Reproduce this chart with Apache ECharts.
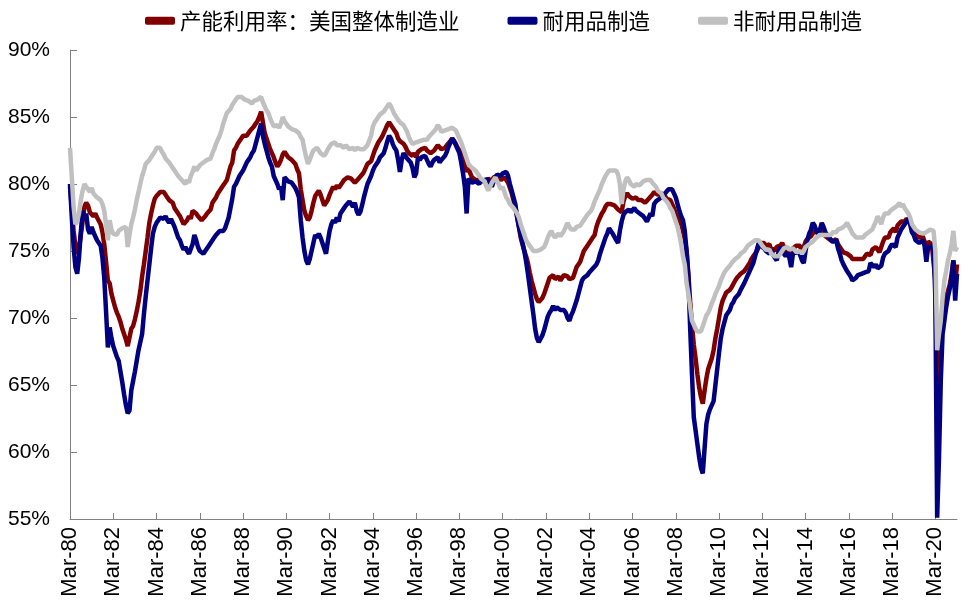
<!DOCTYPE html>
<html>
<head>
<meta charset="utf-8">
<script src="https://cdn.jsdelivr.net/npm/echarts@6/dist/echarts.min.js"></script>
<style>
html,body{margin:0;padding:0;background:#fff;}
#chart{width:969px;height:612px;}
</style>
</head>
<body>
<div id="chart"></div>
<script>
// Monthly data, Mar-1980 .. Mar-2021 (one row per calendar year)
const seriesNames = ['产能利用率：美国整体制造业', '耐用品制造', '非耐用品制造'];
const startYear = 1980, startMonth = 3, monthCount = 493;
const monthAbbr = ['Jan','Feb','Mar','Apr','May','Jun','Jul','Aug','Sep','Oct','Nov','Dec'];

const totalMfg = [
79.8,78.2,76.5,75.4,74.8,75.2,76.2,77.2,78.3,78.6,
78.4,77.9,78.0,77.6,77.8,77.5,77.6,77.0,76.4,75.5,74.2,72.8,
72.6,71.8,71.3,70.8,70.4,70.1,69.7,69.2,68.8,68.4,67.9,68.0,
69.2,69.4,69.9,70.5,71.2,72.0,73.1,74.0,75.0,76.0,77.1,77.8,
78.4,78.9,79.1,79.2,79.4,79.3,79.4,79.2,79.0,78.8,78.9,78.6,
78.2,78.0,77.8,77.6,77.3,77.0,77.0,77.3,77.6,77.4,78.0,77.9,
77.8,77.6,77.5,77.3,77.4,77.6,77.8,77.9,78.1,78.6,78.8,79.0,
79.3,79.5,79.6,79.9,80.1,80.3,80.8,81.3,81.6,82.5,82.7,83.0,
83.1,83.4,83.6,83.7,83.6,83.8,84.0,83.9,84.3,84.4,84.7,85.0,
85.4,84.6,83.8,83.4,83.0,82.6,82.3,82.0,81.6,81.3,81.5,81.8,
82.2,82.4,82.2,82.0,81.9,81.8,81.8,81.5,81.1,80.8,79.6,78.8,
78.0,77.6,77.3,77.5,78.0,78.6,79.1,79.3,79.5,79.2,78.8,78.4,
78.3,78.8,79.2,79.5,79.8,79.6,79.9,79.7,79.8,80.1,80.3,80.4,
80.5,80.6,80.4,80.3,80.1,80.2,80.4,80.5,80.7,80.9,81.2,81.5,
81.6,81.7,82.1,82.5,82.8,83.1,83.3,83.5,83.8,84.1,84.4,84.6,
84.5,84.2,84.0,83.8,83.4,83.2,83.1,83.0,82.8,82.5,82.3,82.2,
82.1,82.3,82.0,82.4,82.5,82.6,82.5,82.7,82.5,82.4,82.3,82.4,
82.5,82.7,82.9,82.8,82.6,82.7,82.7,82.9,83.0,83.2,83.4,83.2,
83.0,82.7,82.5,82.3,82.0,81.4,80.9,81.2,80.8,80.5,80.4,80.3,
80.2,80.3,80.2,80.3,80.1,80.2,80.4,80.3,80.2,80.5,80.4,80.6,
80.5,80.3,80.4,80.5,80.3,80.1,79.7,79.3,78.8,78.3,77.6,76.8,
76.0,75.5,75.0,74.6,74.1,73.4,72.8,72.3,71.8,71.4,71.2,71.3,
71.5,71.8,72.2,72.6,73.0,73.1,73.2,72.9,73.0,73.1,72.8,73.0,
73.2,73.3,73.1,72.9,72.8,73.0,73.4,73.8,74.0,74.2,74.6,75.0,
75.1,75.4,75.6,75.8,76.0,76.2,76.8,77.2,77.5,77.8,78.0,78.3,
78.5,78.6,78.5,78.4,78.4,78.3,78.1,78.2,77.9,78.7,79.1,79.3,
79.1,79.0,78.9,78.9,79.0,78.8,78.9,78.8,78.9,78.6,78.7,78.9,
79.0,79.2,79.4,79.3,79.2,79.3,79.3,79.2,79.1,78.9,78.8,78.8,
78.5,78.2,77.8,77.5,77.4,77.0,76.5,75.9,75.0,73.3,71.2,69.5,
68.0,67.0,65.8,64.8,64.1,63.6,64.6,65.5,66.2,66.6,67.0,67.6,
68.5,69.2,70.0,70.8,71.3,71.6,71.9,72.0,72.1,72.3,72.4,72.8,
73.0,73.1,73.3,73.2,73.5,73.7,73.9,74.1,74.4,74.6,74.8,75.0,
75.3,75.6,75.5,75.6,75.4,75.3,75.5,75.0,75.2,75.0,75.3,75.4,
75.4,75.6,75.3,75.0,74.9,75.0,74.6,75.2,75.3,75.4,75.3,75.4,
74.8,75.3,75.7,75.9,76.0,76.1,76.3,76.5,76.4,76.3,76.5,76.4,
76.3,76.1,76.0,75.9,75.8,75.7,75.8,75.9,75.5,75.4,75.1,74.9,
75.0,74.8,74.9,74.6,74.4,74.5,74.4,74.3,74.4,74.5,74.4,74.6,
74.8,74.9,74.7,75.1,75.2,75.3,75.1,74.9,75.0,75.7,76.0,76.1,
76.0,76.4,76.5,76.7,76.4,76.9,77.0,77.2,77.3,77.2,77.4,77.5,
77.2,76.7,76.6,76.2,76.3,76.0,75.9,76.1,75.7,75.3,75.7,75.6,
75.5,75.6,72.8,64.5,66.5,68.8,70.5,71.2,71.3,72.0,72.5,73.3,
74.3,72.5,74.0
];

const durableMfg = [
80.0,77.5,75.3,73.8,73.3,74.5,76.4,78.0,77.3,77.8,
76.6,76.3,76.8,76.4,76.1,75.8,75.9,75.4,74.5,73.0,70.5,67.8,
69.3,68.5,67.9,67.5,67.1,66.8,66.0,65.2,64.3,63.5,62.9,63.1,
64.6,65.3,66.0,66.8,67.6,68.2,68.8,70.3,71.6,72.8,74.0,75.2,
76.3,76.8,77.1,77.3,77.5,77.6,77.4,77.6,77.3,77.1,77.4,77.3,
76.8,76.4,76.0,75.8,75.4,75.1,75.3,75.0,74.8,74.9,75.5,76.2,
75.8,75.3,75.0,74.9,74.8,75.0,75.1,75.4,75.3,75.8,76.0,76.2,
76.3,76.5,76.6,76.5,76.7,76.8,77.5,78.2,78.9,79.8,80.0,80.3,
80.6,80.8,81.0,81.3,81.6,81.8,82.0,82.3,82.5,83.0,83.5,84.0,
84.5,83.6,83.0,82.5,82.0,81.6,81.3,80.6,80.3,80.0,79.6,79.8,
78.8,80.5,80.4,80.2,80.3,80.1,80.0,79.7,79.4,79.0,77.3,76.0,
75.0,74.3,74.0,74.4,75.0,75.6,76.2,76.0,76.3,76.0,75.6,75.2,
74.8,75.7,76.5,77.0,77.3,77.1,77.5,77.2,77.8,77.9,78.2,78.4,
78.5,78.7,78.6,78.3,78.6,78.0,77.7,77.9,78.4,79.0,79.5,80.0,
80.3,80.6,81.0,81.3,81.5,81.7,82.0,82.0,82.3,82.7,83.2,83.6,
83.4,83.0,82.7,82.5,81.8,80.9,81.8,82.3,82.1,81.9,82.0,81.6,
81.2,80.5,80.8,82.0,81.8,82.0,82.1,82.1,81.8,81.5,81.3,81.6,
81.8,81.7,82.0,81.6,81.8,81.9,82.1,82.4,82.8,83.1,83.4,83.2,
82.9,82.6,82.3,81.6,80.8,79.8,77.8,80.4,80.3,80.1,80.0,80.2,
80.1,80.0,80.3,80.4,80.2,80.4,80.5,80.1,79.8,80.2,80.5,80.7,
80.8,80.6,80.8,80.9,80.9,80.6,80.0,79.5,79.0,78.5,77.5,76.8,
76.2,75.6,75.0,74.2,73.3,72.3,71.3,70.3,69.2,68.5,68.2,68.3,
68.7,69.1,69.6,70.1,70.4,70.6,70.9,70.6,70.8,70.9,70.6,70.7,
70.6,70.4,70.0,69.8,70.2,70.5,70.9,71.3,71.8,72.3,72.8,73.0,
73.0,73.2,73.4,73.5,73.7,73.8,74.0,74.3,74.8,75.2,75.6,76.0,
76.3,76.7,76.5,76.3,76.2,75.8,75.6,76.5,77.2,77.7,77.9,78.0,
78.1,77.9,78.0,78.2,78.0,78.1,77.8,77.9,77.6,77.4,77.2,77.5,
77.8,77.6,78.5,78.7,78.6,78.9,79.0,79.1,79.3,79.4,79.6,79.5,
79.6,79.3,79.0,78.5,78.0,77.6,77.3,76.5,75.0,73.0,69.2,65.8,
62.6,61.6,60.6,59.6,58.8,58.4,60.3,62.1,62.8,63.2,63.5,63.8,
65.0,66.2,67.4,68.5,69.2,69.7,70.2,70.3,70.6,71.0,71.2,71.5,
71.6,71.8,72.1,72.2,72.6,72.9,73.2,73.5,73.8,74.1,74.6,75.1,
75.6,75.4,75.5,75.2,75.0,75.0,74.8,75.1,74.7,74.5,74.3,74.9,
75.3,75.1,74.8,74.6,74.9,74.5,73.8,74.8,75.0,74.8,75.0,74.7,
74.3,74.1,75.0,75.8,76.3,76.6,77.1,76.9,76.5,76.3,76.6,77.1,
76.8,76.4,76.3,76.0,75.9,75.7,75.6,75.8,75.2,74.8,74.3,74.0,
73.9,73.5,73.4,73.1,72.8,72.9,73.0,73.2,73.1,73.3,73.2,73.4,
73.4,73.5,74.1,74.0,73.8,74.0,73.7,73.6,73.9,74.5,74.8,74.9,
75.0,75.3,75.5,75.6,75.3,76.0,76.3,76.6,76.8,77.0,77.2,77.4,
77.0,76.4,76.2,75.8,75.9,75.6,75.6,75.8,75.4,74.2,75.3,75.2,
75.3,75.5,71.5,55.1,59.5,65.3,68.8,69.8,70.8,71.6,72.2,73.0,
74.3,71.3,73.3
];

const nondurableMfg = [
82.7,80.5,78.3,77.0,77.2,77.8,78.8,79.5,80.0,79.8,
79.6,79.4,79.7,79.3,79.3,79.0,79.1,78.8,78.5,78.0,77.0,75.8,
77.3,76.6,76.3,76.4,76.2,76.5,76.5,76.7,76.6,76.8,75.3,76.2,
77.0,77.5,78.1,78.8,79.4,80.0,80.6,81.0,81.5,81.4,81.8,82.0,
82.2,82.4,82.7,82.8,82.7,82.4,82.2,81.9,81.8,81.6,81.5,81.2,
81.0,80.8,80.6,80.5,80.3,80.2,80.0,80.3,80.1,80.6,80.9,81.3,
81.0,81.2,81.4,81.3,81.6,81.5,81.8,81.7,81.9,82.3,82.6,83.0,
83.3,83.6,84.0,84.5,84.9,85.3,85.2,85.6,85.9,86.0,86.3,86.5,
86.4,86.5,86.6,86.3,86.4,86.2,86.3,86.0,86.2,86.1,86.3,86.4,
86.5,86.1,85.8,85.5,85.3,84.9,84.6,84.3,84.2,84.4,84.2,84.5,
85.0,84.7,84.5,84.3,84.4,84.1,84.2,84.0,84.0,83.8,83.5,83.3,
82.6,82.0,81.5,81.8,82.2,82.5,82.6,82.7,82.5,82.3,82.2,82.1,
82.3,82.6,82.8,83.0,83.1,83.1,82.9,82.8,82.9,82.8,82.7,82.9,
82.8,82.6,82.7,82.7,82.5,82.7,82.6,82.6,82.5,82.6,82.7,82.9,
83.0,83.6,84.3,84.6,84.8,85.0,85.2,85.3,85.4,85.6,85.8,86.0,
85.8,85.5,85.2,85.0,84.8,84.6,84.5,84.4,84.3,83.9,83.5,83.2,
83.0,82.9,83.1,83.0,83.2,83.1,83.3,83.4,83.3,83.5,83.6,83.8,
83.9,84.1,84.4,84.2,83.9,83.8,84.0,84.1,84.1,84.0,84.2,84.1,
84.0,83.7,83.4,83.1,82.7,82.3,81.9,81.5,81.4,81.2,81.1,81.0,
80.8,80.6,80.4,80.5,80.2,79.8,79.5,79.8,80.1,80.3,80.5,80.2,
79.9,79.6,79.8,79.4,79.0,78.8,78.5,78.6,78.2,78.0,77.8,77.5,
77.0,76.6,76.2,75.8,75.6,75.4,75.2,75.0,75.1,75.0,74.9,75.1,
75.2,75.3,75.6,76.0,76.3,76.5,76.2,76.0,76.1,76.3,76.1,76.2,
76.5,76.8,77.1,76.8,76.6,76.5,76.6,76.8,76.7,76.9,77.0,77.3,
77.5,77.7,77.8,78.0,78.3,78.7,79.0,79.3,79.6,80.0,80.3,80.6,
80.8,81.0,80.9,81.0,81.1,81.0,80.7,80.0,78.5,79.6,80.2,80.5,
80.3,80.0,79.9,79.8,80.0,80.1,79.9,80.0,80.2,80.1,80.3,80.2,
80.3,80.1,80.0,79.8,79.5,79.4,79.3,79.0,78.9,78.7,78.5,78.2,
78.0,77.6,77.2,76.8,76.2,75.5,74.6,74.0,72.6,71.8,70.8,69.8,
69.5,69.2,69.0,68.9,69.0,69.4,69.8,70.2,70.4,70.7,71.1,71.4,
71.8,72.1,72.4,72.8,73.1,73.4,73.6,73.7,73.9,74.1,74.2,74.4,
74.5,74.6,74.8,74.9,75.0,75.2,75.4,75.5,75.6,75.7,75.8,75.8,
75.8,75.6,75.4,75.3,75.1,75.0,75.1,74.8,74.9,74.6,74.5,74.6,
74.8,75.0,75.2,75.3,75.3,75.1,75.0,75.2,75.1,74.9,75.0,75.0,
74.8,75.0,75.3,75.4,75.5,75.6,75.7,75.8,76.0,76.1,76.2,76.2,
76.2,76.3,76.2,76.3,76.2,76.4,76.5,76.4,76.6,76.5,76.7,76.8,
76.9,77.1,77.0,76.6,76.3,76.2,76.0,75.9,76.0,76.1,76.0,76.2,
76.3,76.4,76.3,76.6,76.9,77.2,77.6,77.3,77.0,77.5,77.8,77.9,
77.8,78.0,78.0,78.2,78.1,78.4,78.6,78.3,78.5,78.2,78.0,77.8,
77.5,77.0,76.8,76.6,76.7,76.4,76.5,76.3,76.3,76.4,76.5,76.6,
76.7,76.5,75.0,67.6,68.8,69.8,71.5,72.8,73.5,74.3,74.8,75.5,
76.5,75.0,75.3
];

// y-axis ticks
const yMin = 55, yMax = 90, yStep = 5;
const labelEvery = 24;

// category labels (Mon-YY)
const categories = [];
for (let i = 0; i < monthCount; i++) {
  const k = (startMonth - 1) + i;
  const y = startYear + Math.floor(k / 12);
  categories.push(monthAbbr[k % 12] + '-' + String(y % 100).padStart(2, '0'));
}

const colors = ['#800000', '#000080', '#C0C0C0'];
const chart = echarts.init(document.getElementById('chart'), null, {renderer: 'canvas'});

chart.setOption({
  animation: false,
  backgroundColor: '#ffffff',
  color: colors,
  legend: {
    top: 5,
    left: 140,
    itemWidth: 30,
    itemHeight: 8,
    itemGap: 48,
    icon: 'roundRect',
    textStyle: {fontFamily: 'Noto Sans CJK SC', fontSize: 21.5, color: '#000'},
    data: seriesNames
  },
  grid: {left: 70, right: 12, top: 50, bottom: 93, containLabel: false},
  xAxis: {
    type: 'category',
    data: categories,
    boundaryGap: false,
    axisLine: {lineStyle: {color: '#808080', width: 1}},
    axisTick: {show: true, inside: true, length: 6, interval: labelEvery - 1, lineStyle: {color: '#808080'}},
    axisLabel: {interval: labelEvery - 1, rotate: 90, margin: 8, fontSize: 22, color: '#000', fontFamily: 'Liberation Sans'},
    splitLine: {show: false}
  },
  yAxis: {
    type: 'value',
    min: yMin, max: yMax, interval: yStep,
    axisLine: {show: true, lineStyle: {color: '#808080', width: 1}},
    axisTick: {show: true, inside: true, length: 7, lineStyle: {color: '#808080'}},
    axisLabel: {formatter: '{value}%', fontSize: 21, margin: 20, color: '#000', fontFamily: 'Liberation Sans'},
    splitLine: {show: false}
  },
  series: [
    {name: seriesNames[0], type: 'line', data: totalMfg, showSymbol: false, symbol: 'none', lineStyle: {width: 4.5, color: colors[0]}, itemStyle: {color: colors[0]}},
    {name: seriesNames[1], type: 'line', data: durableMfg, showSymbol: false, symbol: 'none', lineStyle: {width: 4.5, color: colors[1]}, itemStyle: {color: colors[1]}},
    {name: seriesNames[2], type: 'line', data: nondurableMfg, showSymbol: false, symbol: 'none', lineStyle: {width: 4.5, color: colors[2]}, itemStyle: {color: colors[2]}}
  ]
});
</script>
</body>
</html>
